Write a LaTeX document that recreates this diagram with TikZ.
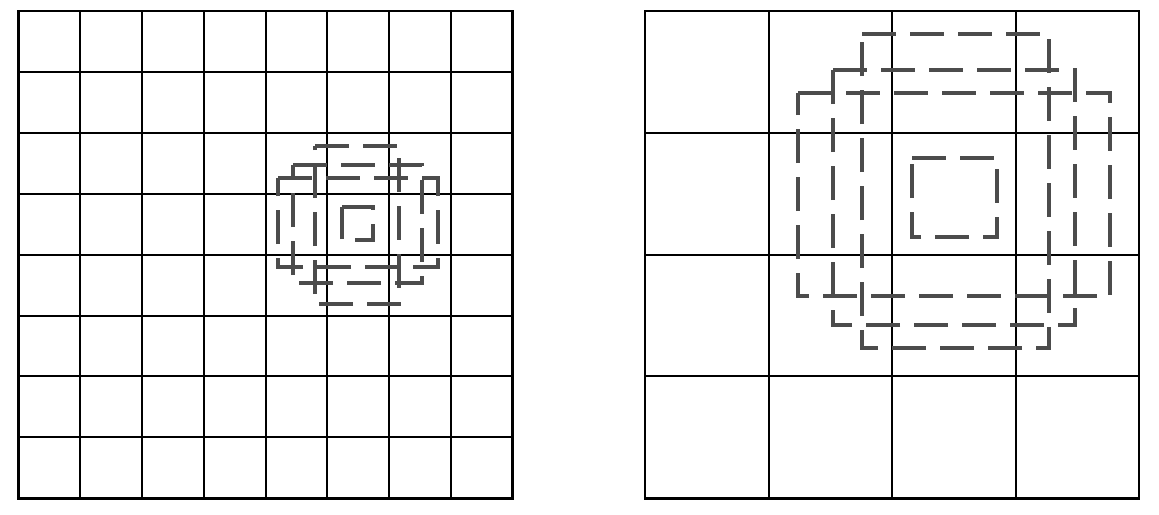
\documentclass[tikz,border=0pt]{standalone}
\begin{document}
\begin{tikzpicture}[x=1pt,y=-1pt,
  gridline/.style={line width=2pt,black},
  gridborder/.style={line width=2.6pt,black},
  field/.style={line width=3.6pt,draw=black!70,dash pattern=on 34pt off 14pt,line join=miter}]
\useasboundingbox (0,0) rectangle (1159,514);
% left grid 8x8
\foreach \i in {1,...,7}{
  \draw[gridline] ({18.7+\i*61.7},11) -- ({18.7+\i*61.7},498.3);
  \draw[gridline] (18.7,{11+\i*60.91}) -- (512.3,{11+\i*60.91});
}
\draw[gridborder] (18.7,11) rectangle (512.3,498.3);
% right grid 4x4
\foreach \i in {1,2,3}{
  \draw[gridline] ({645+\i*123.5},11) -- ({645+\i*123.5},498.3);
  \draw[gridline] (645,{11+\i*121.83}) -- (1139,{11+\i*121.83});
}
\draw[gridborder] (645,11) rectangle (1139,498.3);
% left receptive fields
\draw[field] (315,146) -- (399,146) -- (399,304) -- (315,304) -- cycle;
\draw[field] (293,165) -- (422,165) -- (422,283) -- (293,283) -- cycle;
\draw[field] (278,178) -- (438,178) -- (438,267) -- (278,267) -- cycle;
\draw[field] (342,207) -- (373,207) -- (373,240) -- (342,240) -- cycle;
% right receptive fields
\draw[field] (862,34) -- (1049,34) -- (1049,348) -- (862,348) -- cycle;
\draw[field] (833,70) -- (1075,70) -- (1075,325) -- (833,325) -- cycle;
\draw[field] (798,93) -- (1110,93) -- (1110,296) -- (798,296) -- cycle;
\draw[field] (912,158) -- (997,158) -- (997,237) -- (912,237) -- cycle;
\end{tikzpicture}
\end{document}
